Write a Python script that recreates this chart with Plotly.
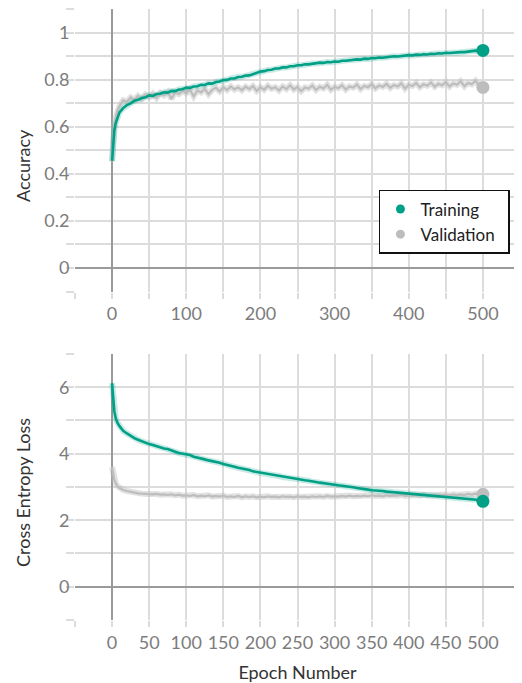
import plotly.graph_objects as go

epochs = [0, 1, 2, 3, 5, 7, 10] + list(range(15, 501, 5))

train_acc = [0.455, 0.515, 0.558, 0.584, 0.617, 0.638, 0.661, 0.679, 0.692, 0.699,
             0.710, 0.714, 0.722, 0.725, 0.733, 0.731, 0.739, 0.740, 0.746, 0.745,
             0.752, 0.751, 0.758, 0.759, 0.766, 0.765, 0.771, 0.772, 0.778, 0.777,
             0.784, 0.783, 0.790, 0.792, 0.798, 0.799, 0.805, 0.805, 0.811, 0.812,
             0.817, 0.818, 0.824, 0.827, 0.834, 0.836, 0.841, 0.842, 0.847, 0.847,
             0.852, 0.852, 0.857, 0.857, 0.861, 0.861, 0.865, 0.865, 0.868, 0.868,
             0.872, 0.871, 0.875, 0.874, 0.877, 0.876, 0.880, 0.880, 0.883, 0.883,
             0.886, 0.885, 0.889, 0.888, 0.892, 0.891, 0.894, 0.893, 0.896, 0.896,
             0.899, 0.898, 0.901, 0.901, 0.904, 0.903, 0.906, 0.905, 0.908, 0.907,
             0.910, 0.909, 0.912, 0.911, 0.914, 0.913, 0.915, 0.914, 0.917, 0.917,
             0.920, 0.920, 0.923, 0.922, 0.924]

val_acc = [0.452, 0.530, 0.575, 0.605, 0.640, 0.668, 0.688, 0.712, 0.705, 0.724,
           0.714, 0.731, 0.718, 0.737, 0.726, 0.741, 0.722, 0.744, 0.733, 0.748,
           0.718, 0.746, 0.738, 0.752, 0.742, 0.757, 0.729, 0.754, 0.746, 0.761,
           0.738, 0.757, 0.766, 0.750, 0.768, 0.756, 0.771, 0.758, 0.767, 0.755,
           0.770, 0.760, 0.773, 0.752, 0.768, 0.757, 0.774, 0.761, 0.768, 0.754,
           0.771, 0.760, 0.776, 0.758, 0.769, 0.751, 0.767, 0.762, 0.775, 0.756,
           0.770, 0.763, 0.778, 0.757, 0.769, 0.764, 0.776, 0.758, 0.771, 0.766,
           0.779, 0.760, 0.773, 0.768, 0.781, 0.763, 0.775, 0.769, 0.782, 0.765,
           0.777, 0.771, 0.784, 0.762, 0.778, 0.773, 0.786, 0.768, 0.780, 0.774,
           0.788, 0.770, 0.782, 0.776, 0.790, 0.771, 0.784, 0.778, 0.793, 0.772,
           0.786, 0.780, 0.795, 0.774, 0.767]

train_loss = [6.12, 5.78, 5.48, 5.28, 5.06, 4.94, 4.83, 4.69, 4.61, 4.53,
              4.47, 4.42, 4.37, 4.34, 4.29, 4.26, 4.22, 4.20, 4.16, 4.14,
              4.09, 4.06, 4.02, 4.00, 3.97, 3.96, 3.91, 3.89, 3.85, 3.83,
              3.80, 3.78, 3.74, 3.73, 3.69, 3.67, 3.63, 3.61, 3.58, 3.56,
              3.52, 3.51, 3.47, 3.45, 3.42, 3.41, 3.38, 3.37, 3.34, 3.33,
              3.30, 3.29, 3.27, 3.26, 3.24, 3.22, 3.20, 3.19, 3.16, 3.15,
              3.13, 3.12, 3.10, 3.09, 3.07, 3.05, 3.04, 3.02, 3.01, 2.99,
              2.97, 2.96, 2.93, 2.92, 2.90, 2.90, 2.88, 2.88, 2.86, 2.86,
              2.84, 2.83, 2.82, 2.81, 2.80, 2.79, 2.78, 2.77, 2.76, 2.76,
              2.74, 2.74, 2.72, 2.72, 2.70, 2.70, 2.68, 2.68, 2.66, 2.67,
              2.65, 2.64, 2.63, 2.61, 2.57]

val_loss = [3.60, 3.45, 3.32, 3.22, 3.11, 3.03, 2.97, 2.91, 2.88, 2.85,
            2.83, 2.81, 2.80, 2.79, 2.80, 2.78, 2.79, 2.77, 2.78, 2.76,
            2.78, 2.75, 2.77, 2.74, 2.75, 2.73, 2.76, 2.72, 2.74, 2.72,
            2.75, 2.71, 2.73, 2.71, 2.74, 2.70, 2.72, 2.70, 2.73, 2.69,
            2.72, 2.70, 2.72, 2.69, 2.71, 2.69, 2.72, 2.70, 2.71, 2.69,
            2.72, 2.70, 2.71, 2.69, 2.72, 2.70, 2.71, 2.69, 2.72, 2.70,
            2.72, 2.70, 2.73, 2.71, 2.72, 2.71, 2.73, 2.71, 2.74, 2.72,
            2.73, 2.72, 2.74, 2.72, 2.75, 2.73, 2.74, 2.72, 2.75, 2.73,
            2.75, 2.74, 2.76, 2.73, 2.75, 2.74, 2.76, 2.74, 2.77, 2.75,
            2.76, 2.74, 2.77, 2.75, 2.77, 2.75, 2.78, 2.76, 2.78, 2.76,
            2.79, 2.77, 2.80, 2.78, 2.78]

x_ticks = [-50, 0, 50, 100, 150, 200, 250, 300, 350, 400, 450, 500, 550]
top_x_labels = ["", "0", "", "100", "", "200", "", "300", "", "400", "", "500", ""]
bot_x_labels = ["", "0", "50", "100", "150", "200", "250", "300", "350", "400", "450", "500", ""]
acc_ticks = [-0.1, 0, 0.1, 0.2, 0.3, 0.4, 0.5, 0.6, 0.7, 0.8, 0.9, 1.0, 1.1]
acc_labels = ["", "0", "", "0.2", "", "0.4", "", "0.6", "", "0.8", "", "1", ""]
loss_ticks = [-1, 0, 1, 2, 3, 4, 5, 6, 7]
loss_labels = ["", "0", "", "2", "", "4", "", "6", ""]

TEAL = "#00A087"
GRAY = "#BDBDBD"
TEAL_BAND = "rgba(0,160,135,0.22)"
GRAY_BAND = "rgba(190,190,190,0.45)"
FONT = "Lato"

fig = go.Figure()

def add_set(train, val, xa, ya):
    fig.add_trace(go.Scatter(x=epochs, y=val, mode="lines", xaxis=xa, yaxis=ya,
                             line=dict(color=GRAY_BAND, width=6), showlegend=False, hoverinfo="skip"))
    fig.add_trace(go.Scatter(x=epochs, y=train, mode="lines", xaxis=xa, yaxis=ya,
                             line=dict(color=TEAL_BAND, width=6), showlegend=False, hoverinfo="skip"))
    fig.add_trace(go.Scatter(x=epochs, y=val, mode="lines", xaxis=xa, yaxis=ya,
                             line=dict(color=GRAY, width=2.2), showlegend=False))
    fig.add_trace(go.Scatter(x=epochs, y=train, mode="lines", xaxis=xa, yaxis=ya,
                             line=dict(color=TEAL, width=2.6), showlegend=False))
    fig.add_trace(go.Scatter(x=[epochs[-1]], y=[val[-1]], mode="markers", xaxis=xa, yaxis=ya,
                             marker=dict(color=GRAY, size=13), showlegend=False))
    fig.add_trace(go.Scatter(x=[epochs[-1]], y=[train[-1]], mode="markers", xaxis=xa, yaxis=ya,
                             marker=dict(color=TEAL, size=13), showlegend=False))

add_set(train_acc, val_acc, "x", "y")
add_set(train_loss, val_loss, "x2", "y2")

# legend entries
fig.add_trace(go.Scatter(x=[None], y=[None], mode="markers", name="Training",
                         marker=dict(color=TEAL, size=9), xaxis="x", yaxis="y"))
fig.add_trace(go.Scatter(x=[None], y=[None], mode="markers", name="Validation\u00a0\u00a0",
                         marker=dict(color=GRAY, size=9), xaxis="x", yaxis="y"))

GRID = "#dcdcdc"
ZERO = "#9a9a9a"
tickfont = dict(family=FONT, size=18, color="#7c7c7c")
titlefont = dict(family=FONT, size=18, color="#333333")

common_x = dict(range=[-50, 550], tickmode="array", tickvals=x_ticks, showgrid=True,
                gridcolor=GRID, gridwidth=1.5, zeroline=True, zerolinecolor=ZERO,
                zerolinewidth=2, ticks="outside", ticklen=6, tickcolor=GRID, tickwidth=1.5,
                tickfont=tickfont, showline=False, fixedrange=True, automargin=False)
common_y = dict(tickmode="array", showgrid=True, gridcolor=GRID, gridwidth=1.5,
                zeroline=True, zerolinecolor=ZERO, zerolinewidth=2, ticks="outside",
                ticklen=8, tickcolor=GRID, tickwidth=1.5, tickfont=tickfont, showline=False,
                automargin=False, ticklabelstandoff=-7)

fig.update_layout(
    width=514, height=675,
    margin=dict(l=67, r=2, t=1, b=63),
    paper_bgcolor="white", plot_bgcolor="white",
    font=dict(family=FONT, color="#333333"),
    xaxis=dict(common_x, domain=[0, 1], anchor="y", ticktext=top_x_labels),
    yaxis=dict(common_y, domain=[0.5376, 1], anchor="x", range=[-0.1, 1.1],
               tickvals=acc_ticks, ticktext=acc_labels),
    xaxis2=dict(common_x, domain=[0, 1], anchor="y2", ticktext=bot_x_labels,
                title=dict(text="Epoch Number", font=titlefont, standoff=14)),
    yaxis2=dict(common_y, domain=[0, 0.4354], anchor="x2", range=[-1, 7],
                tickvals=loss_ticks, ticktext=loss_labels),
    legend=dict(x=0.683, y=0.7038, xanchor="left", yanchor="top",
                bgcolor="white", bordercolor="#111111", borderwidth=1.5,
                font=dict(family=FONT, size=17, color="#222222"), itemwidth=30),
    showlegend=True,
    annotations=[
        dict(text="Accuracy", xref="paper", yref="paper", x=-0.1169, y=0.7447,
             textangle=-90, showarrow=False, font=titlefont, xanchor="center", yanchor="middle"),
        dict(text="Cross Entropy Loss", xref="paper", yref="paper", x=-0.1169, y=0.2095,
             textangle=-90, showarrow=False, font=titlefont, xanchor="center", yanchor="middle"),
    ],
)

fig.write_html("out.html")
